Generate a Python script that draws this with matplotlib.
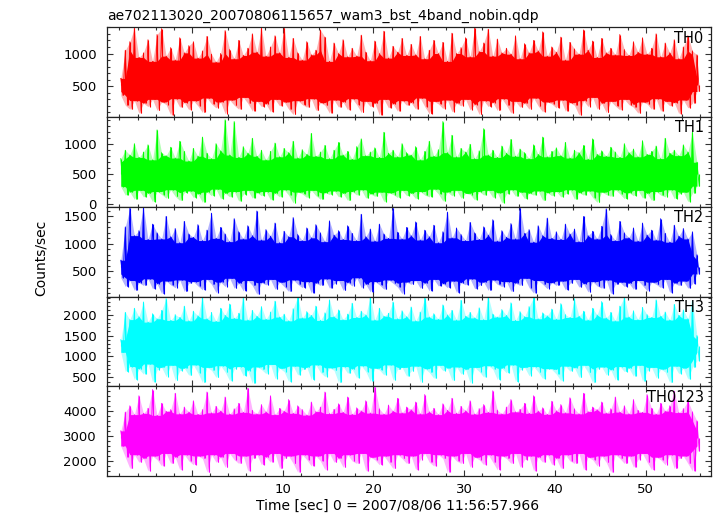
import numpy as np
import matplotlib
matplotlib.use('Agg')
import matplotlib.pyplot as plt
from matplotlib.ticker import MultipleLocator

plt.rcParams['font.family'] = ['DejaVu Sans']
plt.rcParams['font.size'] = 10

title = 'ae702113020_20070806115657_wam3_bst_4band_nobin.qdp'
xlabel = 'Time [sec] 0 = 2007/08/06 11:56:57.966'
ylabel = 'Counts/sec'

# light curve: local peaks / troughs every 0.5 s
t_start = -7.85
t_step = 0.5

th0_hi = [620, 1050, 1180, 1390, 940, 1010, 1210, 880, 1290, 1380, 960, 1090, 900, 1240, 1010, 1120,
          1180, 930, 1040, 1260, 990, 870, 1000, 1350, 1060, 920, 1200, 970, 1080, 1300, 1020, 1390,
          960, 1100, 1270, 1010, 1390, 940, 1230, 1010, 900, 1180, 980, 1050, 1360, 1250, 880, 1160,
          1000, 1210, 950, 1080, 960, 1280, 1020, 890, 1190, 1000, 1340, 930, 1110, 1020, 1230, 970,
          1140, 980, 1260, 920, 1050, 1200, 1000, 1170, 880, 1310, 1000, 1090, 1240, 950, 1390, 1030,
          1160, 1370, 960, 1220, 1010, 1080, 990, 1270, 920, 1150, 1010, 1200, 1040, 1330, 960, 1100,
          1020, 1250, 900, 1170, 1070, 990, 1360, 1050, 1190, 940, 1230, 1010, 1080, 980, 1290, 1060,
          970, 1180, 1020, 1240, 990, 1080, 1300, 950, 1160, 1010, 1210, 920, 1100, 1270, 1040, 980]
th0_lo = [360, 210, 150, 280, 90, 240, 190, 300, 130, 260, 220, 60, 310, 180, 250, 140,
          280, 200, 100, 320, 230, 170, 260, 80, 290, 210, 150, 330, 240, 120, 270, 190,
          230, 110, 300, 200, 260, 150, 70, 280, 220, 180, 310, 130, 250, 210, 90, 290,
          180, 260, 140, 310, 220, 100, 270, 190, 240, 60, 300, 170, 230, 120, 280, 210,
          250, 150, 320, 190, 80, 270, 230, 160, 290, 110, 240, 200, 300, 140, 220, 70,
          280, 190, 250, 130, 310, 210, 90, 270, 180, 240, 150, 320, 200, 110, 260, 230,
          170, 290, 120, 250, 210, 60, 280, 190, 330, 150, 240, 100, 270, 200, 140, 300,
          220, 180, 90, 260, 230, 150, 310, 120, 270, 200, 250, 80, 290, 170, 240, 420]

th1_hi = [760, 900, 820, 1010, 780, 870, 990, 740, 1240, 860, 810, 950, 770, 1050, 880, 720,
          930, 800, 1120, 850, 760, 1010, 890, 1410, 820, 1380, 780, 960, 850, 1100, 800, 900,
          740, 880, 1020, 790, 930, 860, 1050, 770, 910, 830, 1180, 800, 870, 980, 760, 900,
          1030, 820, 880, 750, 960, 1090, 810, 870, 940, 780, 1200, 850, 900, 790, 1010, 860,
          820, 960, 740, 880, 1050, 800, 910, 1380, 860, 1150, 790, 930, 870, 1000, 760, 890,
          1260, 820, 900, 780, 970, 850, 1080, 800, 920, 860, 760, 990, 830, 1120, 790, 880,
          940, 810, 1030, 770, 900, 860, 980, 750, 1090, 830, 890, 800, 950, 870, 780, 1010,
          860, 920, 790, 1060, 830, 880, 970, 760, 1100, 850, 900, 810, 990, 870, 1200, 700]
th1_lo = [290, 150, 200, 80, 230, 120, 180, 40, 210, 160, 100, 240, 130, 60, 190, 220,
          110, 170, 30, 200, 140, 250, 90, 180, 120, 210, 50, 160, 230, 100, 190, 140,
          210, 70, 180, 120, 240, 150, 20, 200, 170, 110, 230, 140, 80, 190, 160, 220,
          120, 180, 60, 210, 150, 240, 100, 170, 130, 200, 40, 190, 160, 110, 230, 140,
          180, 90, 210, 150, 120, 250, 170, 50, 200, 140, 230, 100, 180, 160, 70, 210,
          150, 230, 110, 190, 20, 170, 240, 130, 200, 90, 180, 150, 220, 60, 190, 140,
          210, 120, 170, 240, 80, 190, 150, 220, 110, 30, 200, 160, 130, 240, 170, 90,
          190, 140, 230, 100, 180, 60, 210, 150, 120, 240, 90, 170, 200, 40, 180, 300]

th2_hi = [700, 1310, 1650, 1150, 1240, 1670, 1080, 1360, 1200, 1090, 1500, 1130, 1280, 1020, 1410, 1180,
          1120, 1350, 1060, 1250, 1560, 1100, 1300, 1180, 1040, 1460, 1220, 1090, 1330, 1150, 1600, 1070,
          1260, 1140, 1380, 1020, 1230, 1130, 1480, 1170, 1060, 1290, 1110, 1350, 1200, 1040, 1420, 1160,
          1240, 1080, 1330, 1190, 1060, 1540, 1130, 1270, 1050, 1360, 1180, 1100, 1650, 1210, 1090, 1300,
          1150, 1400, 1070, 1250, 1130, 1340, 1020, 1220, 1580, 1110, 1290, 1170, 1060, 1390, 1200, 1080,
          1310, 1160, 1440, 1050, 1240, 1120, 1370, 1090, 1650, 1190, 1260, 1030, 1330, 1150, 1470, 1100,
          1220, 1080, 1360, 1180, 1270, 1040, 1500, 1150, 1230, 1090, 1320, 1640, 1170, 1060, 1410, 1200,
          1110, 1290, 1050, 1380, 1160, 1250, 1070, 1460, 1190, 1030, 1340, 1140, 1280, 1090, 1220, 800]
th2_lo = [380, 220, 330, 150, 290, 240, 360, 180, 270, 90, 320, 250, 200, 340, 130, 280,
          310, 230, 160, 350, 260, 110, 300, 220, 370, 190, 280, 140, 330, 240, 80, 290,
          250, 350, 170, 300, 220, 130, 340, 260, 200, 310, 100, 280, 240, 360, 190, 270,
          330, 150, 290, 230, 380, 200, 260, 120, 310, 250, 170, 340, 280, 210, 90, 300,
          260, 330, 190, 280, 140, 350, 230, 270, 200, 320, 110, 290, 250, 360, 180, 240,
          300, 150, 340, 260, 220, 310, 130, 280, 240, 370, 200, 100, 330, 260, 180, 290,
          240, 320, 160, 280, 350, 210, 270, 120, 310, 230, 190, 340, 90, 260, 300, 220,
          280, 170, 330, 240, 140, 300, 260, 200, 350, 110, 280, 240, 320, 190, 270, 450]

th3_hi = [1400, 2050, 1880, 2150, 1950, 2300, 1820, 2020, 1900, 2100, 2380, 1860, 2000, 1930, 2200, 1850,
          2080, 1970, 2420, 1900, 2050, 1840, 2150, 1980, 2250, 1910, 2030, 2400, 1870, 2100, 1960, 2190,
          1890, 2060, 2320, 1940, 2010, 1850, 2140, 2430, 1920, 2070, 1980, 2200, 1860, 2040, 2350, 1950,
          2110, 1880, 2010, 2270, 1930, 2080, 1990, 2420, 1870, 2150, 1960, 2030, 2300, 1900, 2090, 1950,
          2180, 1850, 2060, 2400, 1940, 2020, 1890, 2230, 1990, 2100, 1870, 2340, 1960, 2050, 1920, 2160,
          1880, 2430, 2010, 1940, 2120, 1980, 2280, 1860, 2070, 1950, 2190, 2410, 1900, 2040, 1970, 2130,
          1890, 2260, 2000, 1930, 2380, 1960, 2080, 1870, 2150, 1990, 2310, 1920, 2050, 1850, 2200, 2420,
          1940, 2090, 1880, 2170, 2000, 1930, 2350, 1960, 2060, 1870, 2240, 1980, 2110, 1900, 2330, 1500]
th3_lo = [1100, 640, 760, 450, 700, 580, 820, 390, 680, 740, 520, 790, 430, 660, 720, 550,
          800, 610, 380, 740, 670, 500, 780, 630, 420, 700, 760, 540, 660, 360, 750, 690,
          590, 810, 470, 720, 640, 400, 770, 560, 690, 740, 450, 800, 620, 520, 730, 670,
          380, 760, 600, 700, 490, 780, 640, 410, 720, 680, 560, 800, 440, 690, 740, 530,
          650, 770, 390, 710, 620, 480, 790, 660, 720, 430, 750, 580, 690, 370, 740, 640,
          510, 780, 700, 450, 720, 610, 800, 400, 680, 740, 540, 760, 630, 470, 710, 690,
          580, 420, 770, 650, 730, 500, 790, 620, 380, 700, 750, 560, 680, 440, 760, 640,
          720, 530, 790, 410, 660, 740, 490, 700, 630, 380, 770, 590, 720, 460, 740, 900]

th0123_hi = [3200, 3950, 4200, 3850, 4600, 3900, 4100, 4850, 3820, 4300, 3980, 4050, 4700, 3880, 4150, 3950,
             4400, 3860, 4050, 4750, 3920, 4180, 3990, 4550, 3870, 4080, 4300, 3940, 4900, 4020, 3880, 4250,
             3960, 4600, 3850, 4100, 3990, 4450, 3900, 4200, 4050, 3830, 4350, 3970, 4150, 4750, 3890, 4060,
             4280, 3940, 4550, 3860, 4120, 4000, 4400, 3910, 4950, 4080, 3870, 4230, 3990, 4500, 3920, 4150,
             4050, 4350, 3880, 4650, 3960, 4100, 3850, 4280, 4020, 4500, 3900, 4180, 4000, 4400, 3870, 4090,
             4250, 3940, 4800, 4030, 3880, 4150, 4450, 3960, 4060, 4300, 3900, 4600, 3990, 4120, 3860, 4380,
             4000, 4250, 3920, 4520, 4080, 3880, 4700, 3970, 4150, 4050, 4350, 3910, 4080, 4550, 3950, 4200,
             3880, 4450, 4020, 3940, 4650, 4100, 3870, 4300, 3990, 4200, 4780, 3930, 4090, 4400, 3960, 3600]
th0123_lo = [2600, 2150, 1700, 2250, 1950, 2100, 1600, 2200, 2050, 1800, 2300, 1900, 2150, 1650, 2250, 2000,
             1850, 2200, 2100, 1550, 2250, 1950, 2150, 1750, 2300, 2050, 1900, 2200, 1600, 2100, 2250, 1850,
             2150, 1950, 2300, 1700, 2100, 2200, 1900, 1550, 2250, 2050, 1800, 2200, 2000, 1650, 2300, 1950,
             2100, 1750, 2250, 2000, 1900, 2300, 1600, 2150, 2050, 1850, 2200, 1950, 1700, 2250, 2100, 1900,
             2200, 1650, 2050, 2300, 1950, 1800, 2250, 2100, 1550, 2200, 2000, 1900, 2300, 1750, 2150, 2050,
             1850, 2250, 1950, 1650, 2200, 2100, 1900, 2300, 1750, 2050, 2200, 1600, 2150, 1950, 2250, 1850,
             2100, 1700, 2250, 2000, 1900, 2300, 1650, 2150, 2050, 1800, 2200, 1950, 1550, 2250, 2100, 1900,
             2200, 1750, 2050, 2300, 1950, 1650, 2150, 2050, 1850, 2250, 1700, 2100, 2200, 1900, 1600, 2400]

bands = ['TH0', 'TH1', 'TH2', 'TH3', 'TH0123']
colors = ['#ff0000', '#00ff00', '#0000ff', '#00ffff', '#ff00ff']
highs = [th0_hi, th1_hi, th2_hi, th3_hi, th0123_hi]
lows = [th0_lo, th1_lo, th2_lo, th3_lo, th0123_lo]
ylims = [(30, 1400), (-45, 1455), (37, 1677), (290, 2430), (1400, 4980)]
ymajor = [500, 500, 500, 500, 1000]
yticks = [[500, 1000], [0, 500, 1000], [500, 1000, 1500],
          [500, 1000, 1500, 2000], [2000, 3000, 4000]]

W, H = 717, 516
fig = plt.figure(figsize=(W / 100, H / 100), dpi=100)

left, right = 106.7, 711
top, bottom = 27.3, 476
ph = (bottom - top) / 5

for k in range(5):
    y0 = top + k * ph
    ax = fig.add_axes([left / W, 1 - (y0 + ph) / H, (right - left) / W, ph / H])
    hi = np.array(highs[k], dtype=float)
    lo = np.array(lows[k], dtype=float)
    t = t_start + t_step * np.arange(len(hi))
    # solid part of the band: where neighbouring peaks and troughs overlap
    core_hi = np.minimum(np.minimum(hi, np.roll(hi, 1)), np.roll(hi, -1))
    core_lo = np.maximum(np.maximum(lo, np.roll(lo, 1)), np.roll(lo, -1))
    mid = (core_hi + core_lo) / 2
    c = colors[k]
    tt = np.empty(2 * len(hi))
    yy = np.empty(2 * len(hi))
    tt[0::2] = t
    tt[1::2] = t + t_step / 2
    yy[0::2] = hi
    yy[1::2] = lo
    ax.fill_between(t, lo, hi, color=c, alpha=0.3, lw=0)
    ax.fill_between(t, core_lo, core_hi, color=c, lw=0)
    ax.plot(tt, yy, color=c, lw=0.6)
    ax.vlines(t, mid, hi, color=c, lw=0.8)
    ax.vlines(t + t_step / 2, lo, mid, color=c, lw=0.8)

    ax.set_xlim(-9.4, 57.2)
    ax.set_ylim(*ylims[k])
    ax.xaxis.set_major_locator(MultipleLocator(10))
    ax.xaxis.set_minor_locator(MultipleLocator(2))
    ax.set_yticks(yticks[k])
    ax.yaxis.set_minor_locator(MultipleLocator(ymajor[k] / 5))
    ax.tick_params(which='both', direction='in', top=True, right=True,
                   color='#333333', width=0.8)
    ax.tick_params(which='major', length=4.5, labelsize=9.5, pad=7)
    ax.tick_params(which='minor', length=2.2)
    ax.tick_params(axis='x', pad=5)
    for s in ax.spines.values():
        s.set_linewidth(0.9)
        s.set_color('#222222')
    if k < 4:
        ax.tick_params(axis='x', labelbottom=False)
    ax.text(0.988, 0.88, bands[k], transform=ax.transAxes, ha='right', va='center',
            fontsize=10.5)

fig.text(left / W, 1 - 16 / H, title, ha='left', va='center', fontsize=10)
fig.text(398 / W, 1 - 506 / H, xlabel, ha='center', va='center', fontsize=10)
fig.text(41 / W, 1 - 258 / H, ylabel, ha='center', va='center', rotation=90, fontsize=10)

fig.savefig('out.png', dpi=100)
